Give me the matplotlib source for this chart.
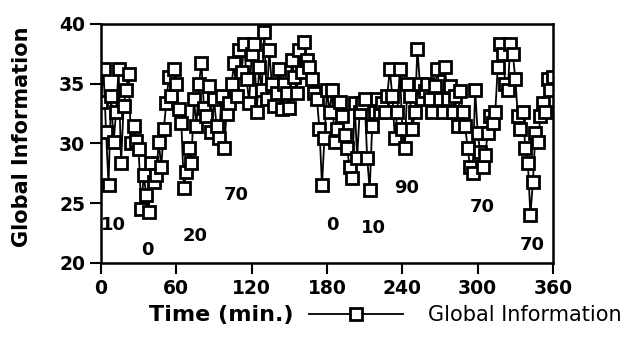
import numpy as np
import matplotlib
matplotlib.use("Agg")
import matplotlib.pyplot as plt

# sampled every 2 minutes, 0 .. 360
time_min = np.arange(0, 362, 2)

global_info = [
    33.5, 36.2, 31.0, 26.5, 34.0, 30.1, 32.6, 36.2, 28.4, 33.1, 34.5, 35.8, 30.0, 31.5, 30.2,  # 0-28
    29.5, 24.5, 27.4, 25.7, 24.3, 28.4, 26.8, 27.4, 30.1, 28.0, 31.2, 33.4, 35.6, 34.0, 36.2,  # 30-58
    35.0, 32.9, 31.7, 26.3, 27.6, 29.6, 28.4, 33.7, 31.5, 35.0, 36.7, 33.0, 32.3, 34.8, 31.0,  # 60-88
    33.7, 31.5, 30.5, 34.0, 29.6, 32.5, 33.4, 35.0, 36.7, 34.0, 37.8, 36.0, 38.3, 35.4, 33.4,  # 90-118
    37.5, 38.3, 32.6, 36.4, 34.5, 39.3, 33.7, 37.8, 35.0, 33.1, 34.2, 36.2, 32.9, 35.0, 34.2,  # 120-148
    33.0, 37.0, 35.6, 34.2, 37.8, 36.0, 38.5, 37.0, 36.4, 35.4, 34.2, 33.7, 31.2, 26.5, 30.5,  # 150-178
    34.5, 32.6, 34.5, 30.1, 31.2, 33.5, 32.3, 30.7, 29.6, 28.0, 27.1, 33.4, 28.8, 32.6, 33.4,  # 180-208
    33.7, 28.8, 26.1, 31.5, 32.6, 33.7, 32.6, 33.4, 32.6, 34.0, 36.2, 34.0, 30.5, 32.6, 36.2,  # 210-238
    31.2, 29.6, 35.0, 34.0, 31.2, 32.6, 37.9, 35.0, 33.7, 34.4, 35.0, 33.7, 32.6, 34.8, 36.2,  # 240-268
    33.7, 32.6, 36.4, 33.7, 34.8, 32.6, 34.0, 31.5, 34.4, 32.6, 31.5, 29.6, 28.0, 27.5, 34.5,  # 270-298
    30.9, 29.3, 28.0, 29.0, 30.9, 32.3, 31.7, 32.6, 36.4, 38.3, 37.5, 35.0, 34.5, 38.3, 37.5,  # 300-328
    35.4, 32.3, 31.2, 32.6, 29.6, 28.4, 24.0, 26.8, 30.9, 30.1, 32.3, 33.4, 32.6, 35.4, 34.5,  # 330-358
    35.6,  # 360
]

# condition labels written inside the plot
cond_labels = ["10", "0", "20", "70", "0", "10", "90", "70", "70"]
cond_x = [9.6, 36.6, 74.9, 108, 184, 216.6, 243.7, 303.4, 343.3]
cond_y = [23.2, 21.1, 22.3, 25.7, 23.2, 22.9, 26.3, 24.7, 21.5]

xticks = [0, 60, 120, 180, 240, 300, 360]
yticks = [20, 25, 30, 35, 40]

fig = plt.figure(figsize=(6.3, 3.43), dpi=100)
ax = fig.add_axes([101 / 630, 1 - 263 / 343, 452 / 630, 239 / 343])

ax.plot(
    time_min, global_info,
    color="black", linewidth=1.3,
    marker="s", markersize=8, markerfacecolor="white",
    markeredgecolor="black", markeredgewidth=2.0,
    label="Global Information",
)

for txt, x, y in zip(cond_labels, cond_x, cond_y):
    ax.text(x, y, txt, ha="center", va="center", fontsize=13, fontweight="bold")

ax.set_xlim(0, 360)
ax.set_ylim(20, 40)
ax.set_xticks(xticks)
ax.set_yticks(yticks)
ax.tick_params(direction="out", length=8, width=1.5, labelsize=13.5)
for lab in ax.get_xticklabels() + ax.get_yticklabels():
    lab.set_fontweight("bold")
for sp in ax.spines.values():
    sp.set_linewidth(1.8)

# x label sits on the left of the legend, below the tick labels
ax.set_xlabel("Time (min.)", fontsize=16, fontweight="bold", ha="left", va="center")
ax.xaxis.set_label_coords((149 - 101) / 452, (263 - 315) / 239)

fig.text(22 / 630, 1 - 137 / 343, "Global Information", rotation=90,
         ha="center", va="center", fontsize=15, fontweight="bold")

fig.legend(
    loc="center left", bbox_to_anchor=(309 / 630, 1 - 315 / 343),
    frameon=False, fontsize=15, handlelength=4.5, handletextpad=1.2,
    borderpad=0, borderaxespad=0,
)

fig.savefig("out.png", dpi=100)
